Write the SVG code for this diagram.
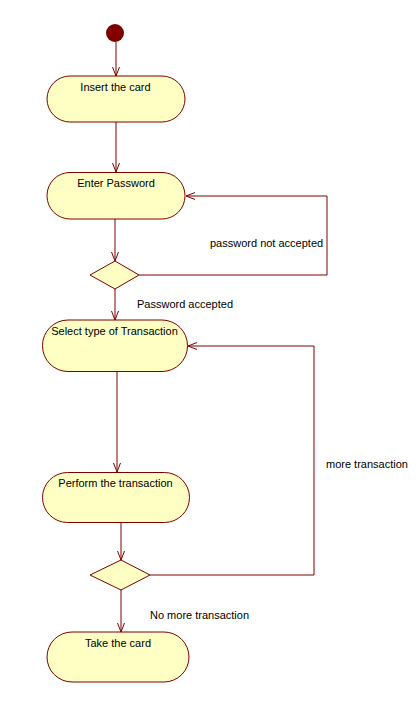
<svg xmlns="http://www.w3.org/2000/svg" width="418" height="707" viewBox="0 0 418 707">
<style>
.node{fill:#FFFFC4;stroke:#800000;stroke-width:1}
.lbl{font-family:"Liberation Sans",Arial,sans-serif;font-size:11px;fill:#000}
.c{fill:none;stroke:#800000;stroke-width:1}
</style>
<defs>
<marker id="arr" markerUnits="userSpaceOnUse" markerWidth="12" markerHeight="10" refX="9" refY="4" orient="auto" viewBox="0 0 12 10">
<path d="M0,0.5 L9,4 L0,7.5" fill="none" stroke="#800000" stroke-width="1"/>
</marker>
</defs>
<rect width="418" height="707" fill="#fff"/>
<g id="connectors">
<path class="c" d="M116,42 L116,76" marker-end="url(#arr)"/>
<path class="c" d="M116,122 L116,172" marker-end="url(#arr)"/>
<path class="c" d="M115,219 L115,261" marker-end="url(#arr)"/>
<path class="c" d="M139,275 L327,275 L327,196 L186,196" marker-end="url(#arr)"/>
<path class="c" d="M115,289 L115,320" marker-end="url(#arr)"/>
<path class="c" d="M117,372 L117,472" marker-end="url(#arr)"/>
<path class="c" d="M121,522 L121,560" marker-end="url(#arr)"/>
<path class="c" d="M150,575 L314,575 L314,346 L188,346" marker-end="url(#arr)"/>
<path class="c" d="M121,590 L121,632" marker-end="url(#arr)"/>
</g>
<g id="start"><circle cx="115" cy="33" r="9" fill="#800000"/></g>
<g id="insert"><rect class="node" x="47" y="76" width="138" height="46" rx="23"/><text class="lbl" x="115.5" y="91" text-anchor="middle">Insert the card</text></g>
<g id="password"><rect class="node" x="47" y="172.5" width="138" height="46.5" rx="23"/><text class="lbl" x="116" y="187" text-anchor="middle">Enter Password</text></g>
<g id="decision1"><polygon class="node" points="90,275 115,261 139,275 115,289"/></g>
<g id="select"><rect class="node" x="42.5" y="320" width="145" height="51.5" rx="25.5"/><text class="lbl" x="114.5" y="335" text-anchor="middle">Select type of Transaction</text></g>
<g id="perform"><rect class="node" x="42.5" y="472.5" width="147" height="50" rx="25"/><text class="lbl" x="115.5" y="487" text-anchor="middle">Perform the transaction</text></g>
<g id="decision2"><polygon class="node" points="90,575 121,560 150,575 121,590"/></g>
<g id="take"><rect class="node" x="47" y="632" width="142" height="50" rx="25"/><text class="lbl" x="118" y="647" text-anchor="middle">Take the card</text></g>
<g id="labels">
<text class="lbl" x="210" y="247">password not accepted</text>
<text class="lbl" x="137" y="308">Password accepted</text>
<text class="lbl" x="326" y="468">more transaction</text>
<text class="lbl" x="150" y="619">No more transaction</text>
</g>
</svg>
